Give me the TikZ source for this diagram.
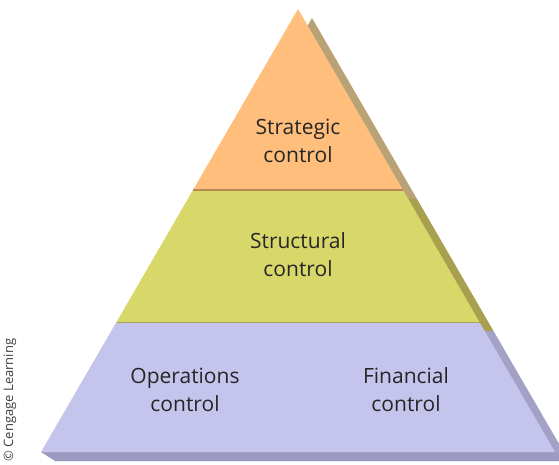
\documentclass[tikz,border=0pt]{standalone}
\usepackage{fontspec}
\setmainfont{Open Sans}
\definecolor{orangeF}{HTML}{FFBE7B}
\definecolor{orangeS}{HTML}{B8A276}
\definecolor{greenF}{HTML}{D8D76A}
\definecolor{greenS}{HTML}{A8A04E}
\definecolor{lavF}{HTML}{C4C4EC}
\definecolor{lavS}{HTML}{A3A1C6}
\definecolor{lavB}{HTML}{9C9AC0}
\definecolor{lineO}{HTML}{B38A55}
\definecolor{lineG}{HTML}{A7A45C}
\begin{document}
\begin{tikzpicture}[x=1pt,y=-1pt,
  lbl/.style={font=\fontsize{21}{28}\selectfont, align=center, text=black!85},
  sh/.style={shift={(14,9)}}]
\useasboundingbox (0,0) rectangle (559,464);
\clip (0,0) rectangle (559,464);
% key points
\coordinate (A) at (298,9);
\coordinate (L1) at (193,190);
\coordinate (R1) at (403,190);
\coordinate (L2) at (116.5,322);
\coordinate (R2) at (479.5,322);
\coordinate (BL) at (41,452);
\coordinate (BR) at (555,452);
% extrusion (side faces)
\fill[lavS] ([sh]L2) -- ([sh]R2) -- ([sh]BR) -- ([sh]BL) -- cycle;
\fill[greenS] ([sh]L1) -- ([sh]R1) -- ([sh]R2) -- ([sh]L2) -- cycle;
\fill[orangeS] ([sh]A) -- ([sh]R1) -- ([sh]L1) -- cycle;
\fill[lavB] (BL) -- (BR) -- ([sh]BR) -- ([sh]BL) -- cycle;
% front faces
\fill[orangeF] (A) -- (R1) -- (L1) -- cycle;
\fill[greenF] (L1) -- (R1) -- (R2) -- (L2) -- cycle;
\fill[lavF] (L2) -- (R2) -- (BR) -- (BL) -- cycle;
\draw[lineO, line width=1.2pt] (L1) -- (R1);
\draw[lineG, line width=0.8pt] (L2) -- (R2);
% labels
\node[lbl] (strat) at (298,141) {Strategic\\control};
\node[lbl] (struc) at (298,255) {Structural\\control};
\node[lbl] (oper) at (185,390) {Operations\\control};
\node[lbl] (fin) at (406,390) {Financial\\control};
\node[rotate=90, font=\fontsize{13}{15}\selectfont, text=black!75] (copy) at (10,400) {© Cengage Learning};
\end{tikzpicture}
\end{document}
